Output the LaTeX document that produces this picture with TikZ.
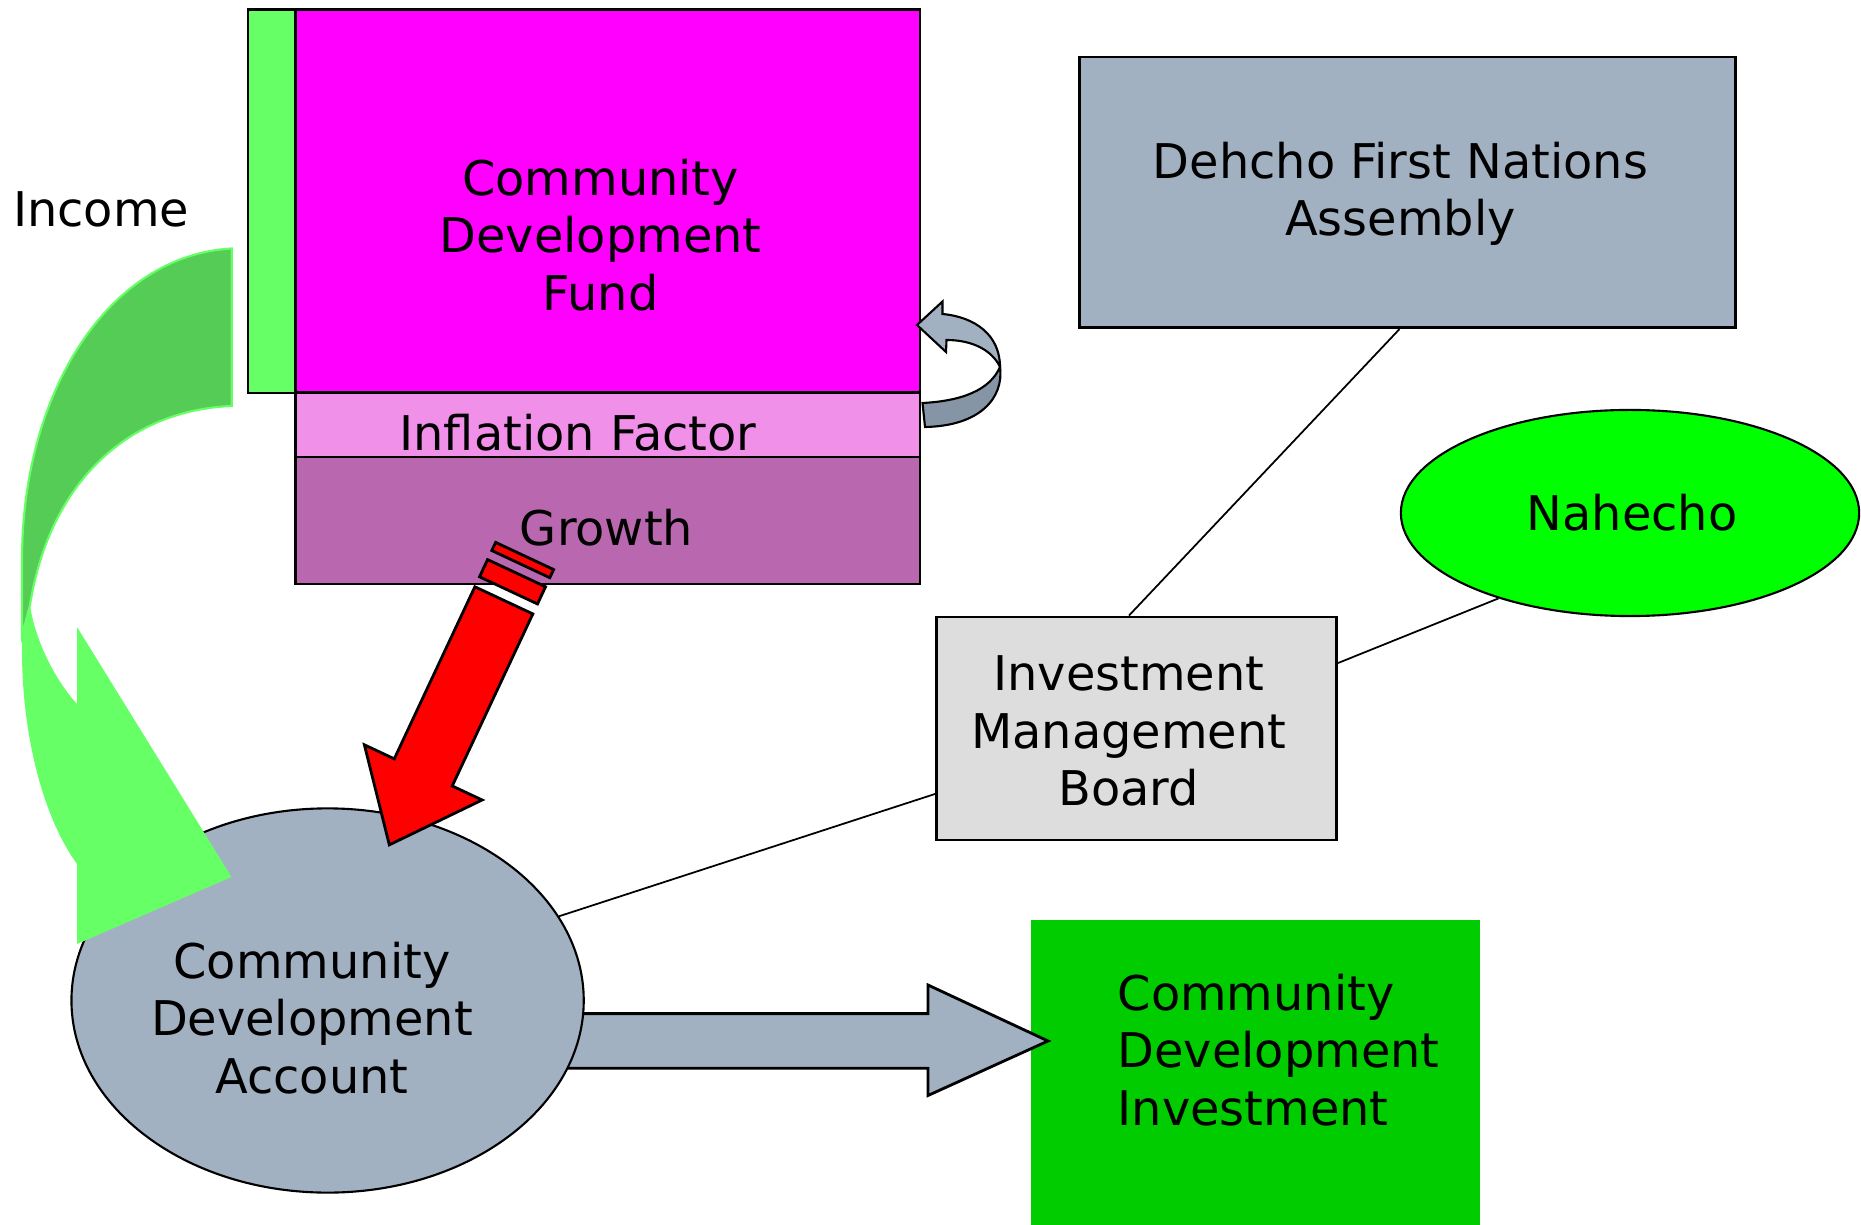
\documentclass[tikz,border=0pt]{standalone}
\usepackage{fontspec}
\setmainfont{DejaVu Sans}
\usepackage{tikz}
\usetikzlibrary{shapes.geometric}
\definecolor{fundpink}{RGB}{255,0,255}
\definecolor{incomegreen}{RGB}{102,255,102}
\definecolor{incomedark}{RGB}{85,204,85}
\definecolor{inflpink}{RGB}{240,144,232}
\definecolor{growthpurple}{RGB}{185,104,176}
\definecolor{slate}{RGB}{162,177,193}
\definecolor{slatedark}{RGB}{133,149,165}
\definecolor{boardgray}{RGB}{221,221,221}
\definecolor{nahechogreen}{RGB}{0,255,0}
\definecolor{investgreen}{RGB}{0,204,0}

\begin{document}
\begin{tikzpicture}[
    x=0.01cm, y=-0.01cm,
    box/.style={draw, line width=0.8pt, inner sep=0pt},
    txt/.style={font=\fontsize{13.6}{16.3}\selectfont, align=center, inner sep=0pt},
    link/.style={line width=0.5pt}
]
\useasboundingbox (0,0) rectangle (1861,1225);

% fund with its income strip
\node[box, fill=incomegreen, minimum width=0.475cm, minimum height=3.834cm] (strip) at (271.75,201.2) {};
\node[box, fill=fundpink, minimum width=6.243cm, minimum height=3.834cm] (fund) at (607.65,201.2) {};
\node[box, fill=inflpink, minimum width=6.243cm, minimum height=0.641cm] (infl) at (607.65,424.95) {};
\node[box, fill=growthpurple, minimum width=6.243cm, minimum height=1.27cm] (growth) at (607.65,520.5) {};
\node[txt] (fundtxt) at (600.6,235) {Community\\Development\\Fund};
\node[txt] (infltxt) at (578,433) {Inflation Factor};
\node[txt] (growthtxt) at (606.5,528) {Growth};
\node[txt] (income) at (101,209) {Income};

% governance
\node[box, fill=slate, minimum width=6.55cm, minimum height=2.706cm] (dehcho) at (1407.5,192.3) {};
\node[txt] (dehchotxt) at (1400.5,194) {Dehcho First Nations\\Assembly};
\node[box, fill=boardgray, minimum width=4cm, minimum height=2.23cm] (imb) at (1136.5,728.5) {};
\node[txt] (imbtxt) at (1128.7,731) {Investment\\Management\\Board};
\node[box, ellipse, fill=nahechogreen, line width=0.6pt, minimum width=4.58cm, minimum height=2.06cm] (nahecho) at (1630,513) {};
\node[txt] (nahechotxt) at (1632,513) {Nahecho};

% investment box
\node[fill=investgreen, inner sep=0pt, minimum width=4.49cm, minimum height=3.05cm] (cdi) at (1255.5,1072.5) {};
\node[txt, anchor=west, align=left] (cditxt) at (1117,1050) {Community\\Development\\Investment};

% flow from account to investment
\draw[fill=slate, line width=0.8pt] (480,1013.6) -- (928,1013.6) -- (928,985) -- (1048,1041)
    -- (928,1095.5) -- (928,1068.2) -- (480,1068.2) -- cycle;

% account
\node[box, ellipse, fill=slate, line width=0.6pt, minimum width=5.12cm, minimum height=3.84cm] (cda) at (327.6,1000.5) {};
\node[txt] (cdatxt) at (312,1018) {Community\\Development\\Account};

\draw[link] ([xshift=-0.08cm]dehcho.south) -- ([xshift=-0.075cm]imb.north);
\draw[link] (imb.18) -- (nahecho.213);
\draw[link] (imb.198) -- (cda.20);

% income arrow
\fill[incomegreen] (231.7,248.5) .. controls (110,255) and (22,390) .. (22,560) -- (22,650)
    .. controls (22,740) and (45,820) .. (77,864) -- (77,944) -- (231.5,877) -- (77,627) -- (77,704)
    .. controls (55,680) and (35,640) .. (30,605) .. controls (50,480) and (130,410) .. (231.7,406) -- cycle;
\filldraw[fill=incomedark, draw=incomegreen, line width=0.6pt] (231.7,248.5) .. controls (110,255) and (22,390) .. (22,560)
    -- (22,636) -- (30,605) .. controls (50,480) and (130,410) .. (231.7,406) -- cycle;

% growth arrow
\begin{scope}[shift={(503.85,600.35)}, rotate=-115.1, line width=0.8pt]
  \draw[fill=red] (0,-32) -- (190,-32) -- (190,-65) -- (270,0) -- (190,65) -- (190,32) -- (0,32) -- cycle;
  \draw[fill=red] (-30,-32) rectangle (-11,32);
  \draw[fill=red] (-49,-32) rectangle (-40,32);
\end{scope}

% inflation loop
\draw[fill=slate, line width=0.6pt] (917,325) -- (942.5,301.5) -- (942.5,314)
    .. controls (975,317) and (1000,335) .. (1000,367)
    .. controls (992,350) and (972,340) .. (946.5,340) -- (946,352) -- cycle;
\draw[fill=slatedark, line width=0.6pt] (1000,367) .. controls (1004,398) and (980,426) .. (925,427)
    -- (922.5,403) .. controls (962,401) and (990,390) .. (1000,367) -- cycle;
\end{tikzpicture}
\end{document}
